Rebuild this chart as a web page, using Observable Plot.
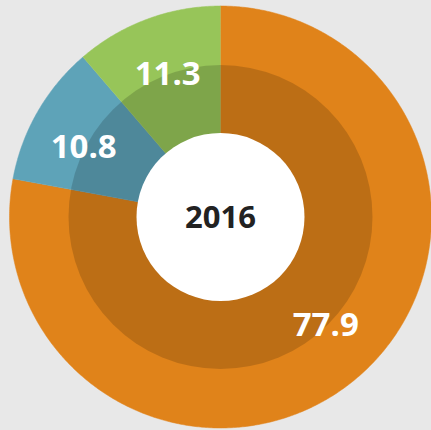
<!DOCTYPE html>
<html>
<head>
<meta charset="utf-8">
<script src="https://cdn.jsdelivr.net/npm/d3@7"></script>
<script src="https://cdn.jsdelivr.net/npm/@observablehq/plot@0.6"></script>
<style>
  html, body { margin: 0; padding: 0; background: #e8e8e8; }
  #chart svg { display: block; }
</style>
</head>
<body>
<div id="chart"></div>
<script>
// ---- data ----
const categories = ["Orange", "Blue", "Green"];
const values = [77.9, 10.8, 11.3];
const valueLabels = ["77.9", "10.8", "11.3"];
const centerLabel = "2016";
const colors = ["#e0831a", "#5ea3b8", "#97c559"];

// ---- geometry (in pixel-sized scale units) ----
const R_OUTER = 211, R_RING = 152, R_HOLE = 84;
const labelNudge = [[8, -8], [-5, 6], [0, 0]]; // small label shifts (px)

const pie = d3.pie().sort(null).startAngle(0).endAngle(2 * Math.PI)(values);

const polar = (r, a) => ({x: r * Math.sin(a), y: r * Math.cos(a)});

const slices = pie.map((p, i) => {
  const pts = [{...polar(0, 0), k: i}];
  const n = Math.max(2, Math.ceil((p.endAngle - p.startAngle) / (Math.PI / 360)));
  for (let j = 0; j <= n; j++) {
    const a = p.startAngle + (p.endAngle - p.startAngle) * j / n;
    pts.push({...polar(R_OUTER, a), k: i});
  }
  return pts;
});

const labels = pie.map((p, i) => {
  const a = (p.startAngle + p.endAngle) / 2;
  return {...polar(R_RING, a), text: valueLabels[i], dx: labelNudge[i][0], dy: labelNudge[i][1]};
});

const chart = Plot.plot({
  width: 431,
  height: 430,
  margin: 0,
  style: {background: "#e8e8e8", overflow: "visible"},
  x: {domain: [-220, 211], range: [0, 431], axis: null},
  y: {domain: [-213.5, 216.5], range: [430, 0], axis: null},
  marks: [
    ...slices.map((pts, i) => Plot.line(pts, {x: "x", y: "y", fill: colors[i], stroke: colors[i], strokeWidth: 0.5, curve: "linear"})),
    Plot.dot([{x: 0, y: 0}], {x: "x", y: "y", r: R_RING, fill: "#000", fillOpacity: 0.16, stroke: null}),
    Plot.dot([{x: 0, y: 0}], {x: "x", y: "y", r: R_HOLE, fill: "#ffffff", stroke: null}),
    ...labels.map(l => Plot.text([l], {x: "x", y: "y", text: "text", dx: l.dx, dy: l.dy, fill: "#ffffff", fontSize: 33, fontWeight: "bold", fontFamily: "Open Sans"})),
    Plot.text([{x: 0, y: 0, text: centerLabel}], {x: "x", y: "y", text: "text", dy: 1, fill: "#222222", fontSize: 31, fontWeight: "bold", fontFamily: "Open Sans"})
  ]
});

document.getElementById("chart").appendChild(chart);
</script>
</body>
</html>
